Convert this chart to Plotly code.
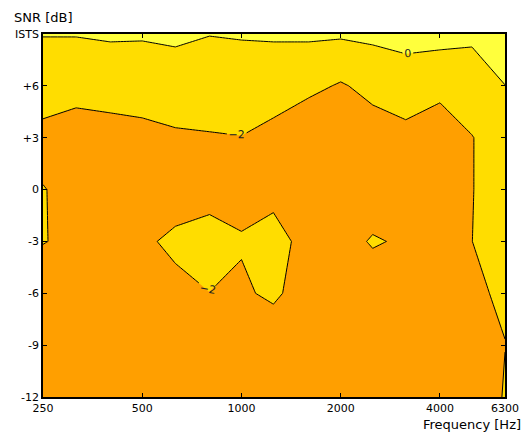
import plotly.graph_objects as go

# Third-octave frequencies [Hz]
freqs = [250, 315, 400, 500, 630, 800, 1000, 1250, 1600, 2000, 2500, 3150, 4000, 5000, 6300]
# SNR levels [dB]; top level is the ISTS (unmasked) condition
snr_levels = [-12, -9, -6, -3, 0, 3, 6, 9]

# Values per SNR row (dB difference)
z_m12 = [-4.5, -4.5, -4.5, -4.5, -4.5, -4.5, -4.5, -4.5, -4.5, -4.5, -4.5, -4.5, -4.5, -8.3, -1.35]
z_m9 = [-4, -4, -4, -4, -4, -4, -4, -4.67, -4, -4, -4, -4, -4, -4, -2.1]
z_m6 = [-2.83, -3.5, -3.5, -3.5, -2.68, -2.02, -2.56, -1.29, -4.02, -3.5, -3.3, -3.5, -3.5, -2.85, -1.245]
z_m3 = [-1.95, -2.28, -3, -2.41, -1.5, -1.3, -1.7, -1.2, -2.77, -2.85, -1.8, -2.28, -3, -2.01, -1.3]
z_0 = [-1.95, -2.37, -3, -3, -3.22, -2.65, -3.25, -2.64, -3, -3, -3.3, -2.6, -3, -2.05, -1.2]
z_p3 = [-2.47, -3.36, -2.92, -2.62, -2.24, -2.13, -2.04, -2.62, -3.67, -3, -2.96, -2.53, -3.03, -2.06, -1.06]
z_p6 = [-1.18, -1, -1, -1, -1, -1, -1, -1, -1.5, -2.186, -1.44, -1, -1.5, -1.0, -0.03]
z_ists = [0.07, 0.06, 0.18, 0.154, 0.333, 0.042, 0.132, 0.18, 0.27, 0.234, 0.383, 0.62, 0.66, 0.333, 1.5]

z = [z_m12, z_m9, z_m6, z_m3, z_0, z_p3, z_p6, z_ists]

x_tickvals = [250, 500, 1000, 2000, 4000, 6300]
x_ticktext = ["250", "500", "1000", "2000", "4000", "6300"]
y_tickvals = [-12, -9, -6, -3, 0, 3, 6, 9]
y_ticktext = ["-12", "-9", "-6", "-3", "0", "+3", "+6", "ISTS"]

orange = "rgb(255,159,0)"
yellow = "rgb(255,221,0)"
light = "rgb(255,255,60)"

fig = go.Figure(go.Contour(
    x=freqs, y=snr_levels, z=z,
    autocontour=False,
    contours=dict(start=-2, end=0, size=2, coloring="fill", showlabels=True,
                  labelfont=dict(size=11, color="#222", family="DejaVu Sans")),
    colorscale=[[0, orange], [0.3333, orange], [0.3333, yellow], [0.6667, yellow],
                [0.6667, light], [1, light]],
    line=dict(color="black", width=1, smoothing=0),
    showscale=False,
    hoverinfo="skip",
))

font = dict(family="DejaVu Sans", size=11, color="black")
fig.update_layout(
    width=522, height=438,
    margin=dict(l=43, r=17, t=34, b=41),
    paper_bgcolor="white", plot_bgcolor="white",
    font=font,
    showlegend=False,
    xaxis=dict(type="log", range=[2.39794, 3.799341], tickvals=x_tickvals, ticktext=x_ticktext,
               ticks="inside", ticklen=4, tickcolor="black", showgrid=False, zeroline=False,
               showline=True, linecolor="black", linewidth=1.5, mirror="ticks", tickfont=font,
               automargin=False),
    yaxis=dict(range=[-12, 9], tickvals=y_tickvals, ticktext=y_ticktext,
               ticks="inside", ticklen=4, tickcolor="black", showgrid=False, zeroline=False,
               showline=True, linecolor="black", linewidth=1.5, mirror="ticks", tickfont=font,
               automargin=False),
    annotations=[
        dict(text="SNR [dB]", xref="paper", yref="paper", x=-0.067, y=1.045,
             xanchor="left", yanchor="middle", showarrow=False,
             font=dict(family="DejaVu Sans", size=13, color="black")),
        dict(text="Frequency [Hz]", xref="paper", yref="paper", x=0.818, y=-0.077,
             xanchor="left", yanchor="middle", showarrow=False,
             font=dict(family="DejaVu Sans", size=13, color="black")),
    ],
)

fig.write_html("out.html", config={"displayModeBar": False},
               post_script="document.body.style.margin='0px';document.body.style.overflow='hidden';")
